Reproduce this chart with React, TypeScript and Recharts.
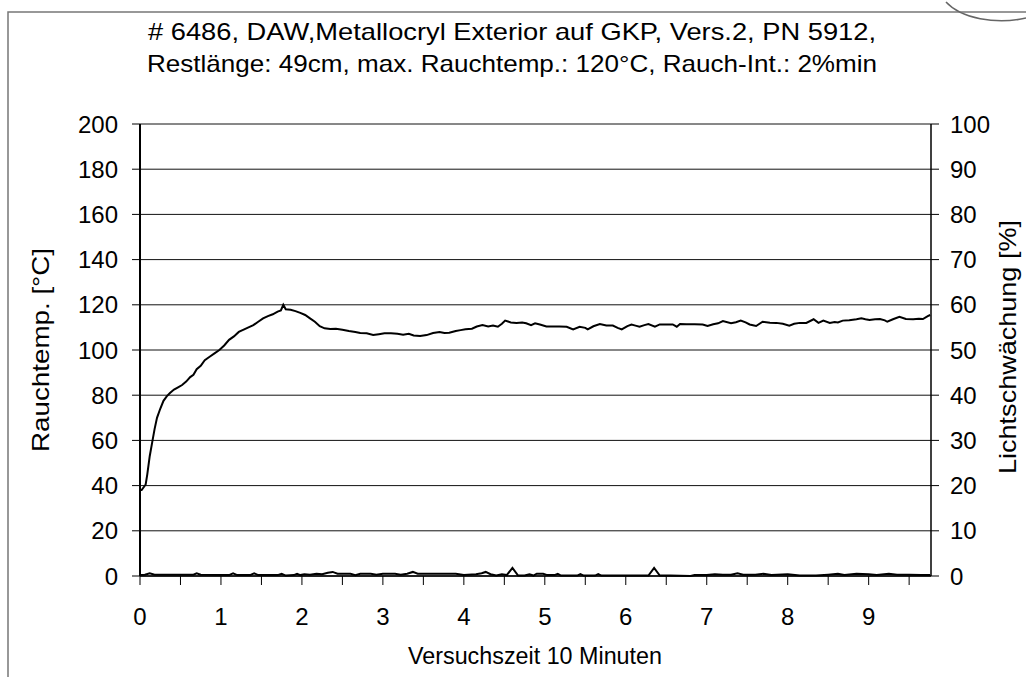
import { LineChart, Line, XAxis, YAxis, CartesianGrid } from "recharts";

const TITLE_LINE_1 = "# 6486, DAW,Metallocryl Exterior auf GKP, Vers.2, PN 5912,";
const TITLE_LINE_2 = "Restlänge: 49cm, max. Rauchtemp.: 120°C, Rauch-Int.: 2%min";
const X_LABEL = "Versuchszeit 10 Minuten";
const LEFT_LABEL = "Rauchtemp. [°C]";
const RIGHT_LABEL = "Lichtschwächung [%]";

// Rauchtemperatur [°C] over time (x = Versuchszeit, 1 unit = 1 min)
const tempTimes = [
  0, 0.02, 0.05, 0.07, 0.09, 0.12, 0.15, 0.18, 0.21, 0.25, 0.29, 0.33, 0.37, 0.42, 0.47, 0.52,
  0.57, 0.62, 0.66, 0.7, 0.75, 0.8, 0.86, 0.92, 0.98, 1.04, 1.1, 1.16, 1.22, 1.28, 1.34, 1.4,
  1.46, 1.52, 1.58, 1.64, 1.7, 1.74, 1.77, 1.8, 1.86, 1.92, 1.98, 2.04, 2.1, 2.16, 2.22, 2.28,
  2.35, 2.42, 2.5, 2.58, 2.66, 2.72, 2.8, 2.88, 2.95, 3.02, 3.1, 3.18, 3.25, 3.32, 3.38, 3.46,
  3.54, 3.62, 3.7, 3.76, 3.82, 3.9, 3.96, 4.02, 4.1, 4.16, 4.23, 4.3, 4.36, 4.42, 4.47, 4.51,
  4.58, 4.65, 4.72, 4.77, 4.83, 4.88, 4.95, 5.02, 5.1, 5.18, 5.27, 5.35, 5.43, 5.5, 5.53, 5.6,
  5.68, 5.76, 5.84, 5.9, 5.95, 6.02, 6.07, 6.12, 6.17, 6.23, 6.28, 6.36, 6.42, 6.5, 6.58, 6.63,
  6.67, 6.75, 6.85, 6.95, 7.01, 7.08, 7.14, 7.2, 7.3, 7.36, 7.42, 7.48, 7.53, 7.61, 7.69, 7.78,
  7.86, 7.94, 8.02, 8.08, 8.15, 8.23, 8.32, 8.38, 8.44, 8.52, 8.58, 8.62, 8.68, 8.76, 8.85, 8.91,
  8.96, 9.01, 9.08, 9.14, 9.2, 9.23, 9.3, 9.38, 9.46, 9.55, 9.62, 9.67, 9.73, 9.76,
];
const tempValues = [
  38, 38, 39.5, 40.5, 45, 53, 59, 65, 70, 74, 77.5, 79.5, 81, 82.5, 83.5, 84.5,
  86, 88, 89, 91.5, 93, 95.5, 97, 98.5, 100, 102, 104.5, 106, 108, 109, 110, 111,
  112.5, 114, 115, 115.8, 117, 117.5, 120, 118, 117.8, 117.2, 116.4, 115.5, 114, 112.5, 110.5, 109.6,
  109.3, 109.4, 109, 108.4, 108, 107.5, 107.4, 106.6, 107, 107.4, 107.4, 107.2, 106.8, 107.2, 106.4, 106.2,
  106.6, 107.5, 108, 107.5, 107.6, 108.4, 108.8, 109.2, 109.4, 110.4, 111, 110.4, 110.8, 110.3, 111.6, 113,
  112.2, 112, 112.2, 111.8, 111, 111.8, 111.2, 110.4, 110.4, 110.4, 110.3, 109.1, 110.3, 109.8, 109.1, 110.5,
  111.5, 110.8, 110.8, 109.8, 109.1, 110.6, 111.3, 110.8, 110.3, 111, 111.5, 110.3, 111.3, 111.3, 111.3, 110.3,
  111.5, 111.4, 111.4, 111.3, 110.6, 111.4, 111.8, 112.8, 111.8, 112.3, 113, 112.2, 111.3, 110.6, 112.5, 112.1,
  112, 111.6, 110.8, 111.6, 112, 112, 113.6, 112, 113, 112, 112.4, 112.2, 113, 113.2, 113.6, 114,
  113.6, 113.3, 113.6, 113.7, 113.1, 112.5, 113.6, 114.7, 113.7, 113.6, 113.8, 113.7, 115, 115.5,
];

// Lichtschwächung [%] over time
const lightTimes = [
  0, 0.06, 0.12, 0.18, 0.4, 0.66, 0.7, 0.75, 1.1, 1.15, 1.2, 1.36, 1.41, 1.46, 1.7, 1.75,
  1.8, 1.9, 1.94, 1.98, 2.03, 2.1, 2.18, 2.25, 2.32, 2.38, 2.44, 2.6, 2.66, 2.72, 2.85, 2.92,
  3.0, 3.15, 3.22, 3.3, 3.37, 3.43, 3.7, 3.9, 4.0, 4.15, 4.22, 4.27, 4.33, 4.4, 4.47, 4.53,
  4.6, 4.67, 4.75, 4.81, 4.86, 4.9, 4.98, 5.03, 5.12, 5.16, 5.2, 5.4, 5.44, 5.48, 5.62, 5.66,
  5.7, 6.28, 6.35, 6.42, 6.55, 6.8, 6.85, 7.0, 7.1, 7.2, 7.3, 7.38, 7.45, 7.6, 7.7, 7.8,
  8.0, 8.15, 8.35, 8.5, 8.62, 8.7, 8.85, 9.0, 9.1, 9.25, 9.35, 9.5, 9.65, 9.76,
];
const lightValues = [
  0.2, 0.3, 0.6, 0.3, 0.3, 0.3, 0.6, 0.3, 0.2, 0.6, 0.2, 0.2, 0.6, 0.2, 0.2, 0.5,
  0.1, 0.2, 0.5, 0.2, 0.4, 0.3, 0.5, 0.4, 0.7, 0.9, 0.5, 0.5, 0.2, 0.5, 0.5, 0.3,
  0.5, 0.5, 0.3, 0.5, 0.9, 0.5, 0.5, 0.5, 0.2, 0.4, 0.6, 0.9, 0.4, 0.1, 0.4, 0.2,
  1.8, 0.1, 0.1, 0.4, 0.1, 0.5, 0.5, 0.2, 0.2, 0.5, 0.1, 0.1, 0.4, 0.1, 0.1, 0.4,
  0.1, 0.1, 1.8, 0.1, 0.1, 0.0, 0.2, 0.2, 0.4, 0.3, 0.3, 0.6, 0.3, 0.3, 0.5, 0.2,
  0.4, 0.1, 0.1, 0.3, 0.5, 0.2, 0.5, 0.4, 0.2, 0.5, 0.3, 0.3, 0.2, 0.2,
];

const xTicks = [0, 0.5, 1, 1.5, 2, 2.5, 3, 3.5, 4, 4.5, 5, 5.5, 6, 6.5, 7, 7.5, 8, 8.5, 9, 9.5];
const leftTicks = [0, 20, 40, 60, 80, 100, 120, 140, 160, 180, 200];
const rightTicks = [0, 10, 20, 30, 40, 50, 60, 70, 80, 90, 100];

const tempData = tempTimes.map((t, i) => ({ t, temp: tempValues[i] }));
const lightData = lightTimes.map((t, i) => ({ t, light: lightValues[i] }));

const FONT = "'Liberation Sans', Arial, sans-serif";
const tickStyle = { fontSize: 24, fill: "#000", fontFamily: FONT };

export default function App() {
  return (
    <div style={{ position: "absolute", left: 0, top: 0, width: 1026, height: 677, background: "#fff" }}>
      <LineChart
        width={1026}
        height={677}
        margin={{ top: 124, right: 0, left: 0, bottom: 0 }}
      >
        <CartesianGrid yAxisId="left" vertical={false} stroke="#111" strokeWidth={1} />
        <XAxis
          type="number"
          dataKey="t"
          domain={[0, 9.77]}
          ticks={xTicks}
          allowDataOverflow
          height={101}
          tickSize={9}
          tickMargin={23}
          tickFormatter={(v: number) => (Number.isInteger(v) ? String(v) : "")}
          tick={tickStyle}
          stroke="#000"
          axisLine={{ stroke: "#000", strokeWidth: 1.5 }}
        />
        <YAxis
          yAxisId="left"
          domain={[0, 200]}
          ticks={leftTicks}
          width={140}
          tickSize={8}
          tickMargin={14}
          tick={tickStyle}
          axisLine={{ stroke: "#000", strokeWidth: 2 }}
          tickLine={{ stroke: "#000" }}
        />
        <YAxis
          yAxisId="right"
          orientation="right"
          domain={[0, 100]}
          ticks={rightTicks}
          width={95}
          tickSize={8}
          tickMargin={11}
          tick={tickStyle}
          axisLine={{ stroke: "#000", strokeWidth: 1.5 }}
          tickLine={{ stroke: "#000" }}
        />
        <Line
          yAxisId="left"
          data={tempData}
          dataKey="temp"
          type="linear"
          stroke="#000"
          strokeWidth={2}
          dot={false}
          isAnimationActive={false}
        />
        <Line
          yAxisId="right"
          data={lightData}
          dataKey="light"
          type="linear"
          stroke="#000"
          strokeWidth={2}
          dot={false}
          isAnimationActive={false}
        />
      </LineChart>
      <svg
        width={1026}
        height={677}
        style={{ position: "absolute", left: 0, top: 0, pointerEvents: "none" }}
      >
        <rect x={8} y={12} width={1040} height={700} fill="none" stroke="#777" strokeWidth={1.5} />
        <path d="M 946 2 A 62 34 0 0 0 1026 18" fill="none" stroke="#666" strokeWidth={1.5} />
        <g fontFamily={FONT} fill="#000" fontSize={24} textAnchor="middle">
          <text x={512} y={40} textLength={728} lengthAdjust="spacingAndGlyphs">{TITLE_LINE_1}</text>
          <text x={512} y={72} textLength={730} lengthAdjust="spacingAndGlyphs">{TITLE_LINE_2}</text>
          <text x={535} y={664} fontSize={23} textLength={254} lengthAdjust="spacingAndGlyphs">{X_LABEL}</text>
          <text transform="translate(49,350) rotate(-90)" textLength={204} lengthAdjust="spacingAndGlyphs">
            {LEFT_LABEL}
          </text>
          <text transform="translate(1016,347) rotate(-90)" textLength={254} lengthAdjust="spacingAndGlyphs">
            {RIGHT_LABEL}
          </text>
        </g>
      </svg>
    </div>
  );
}
